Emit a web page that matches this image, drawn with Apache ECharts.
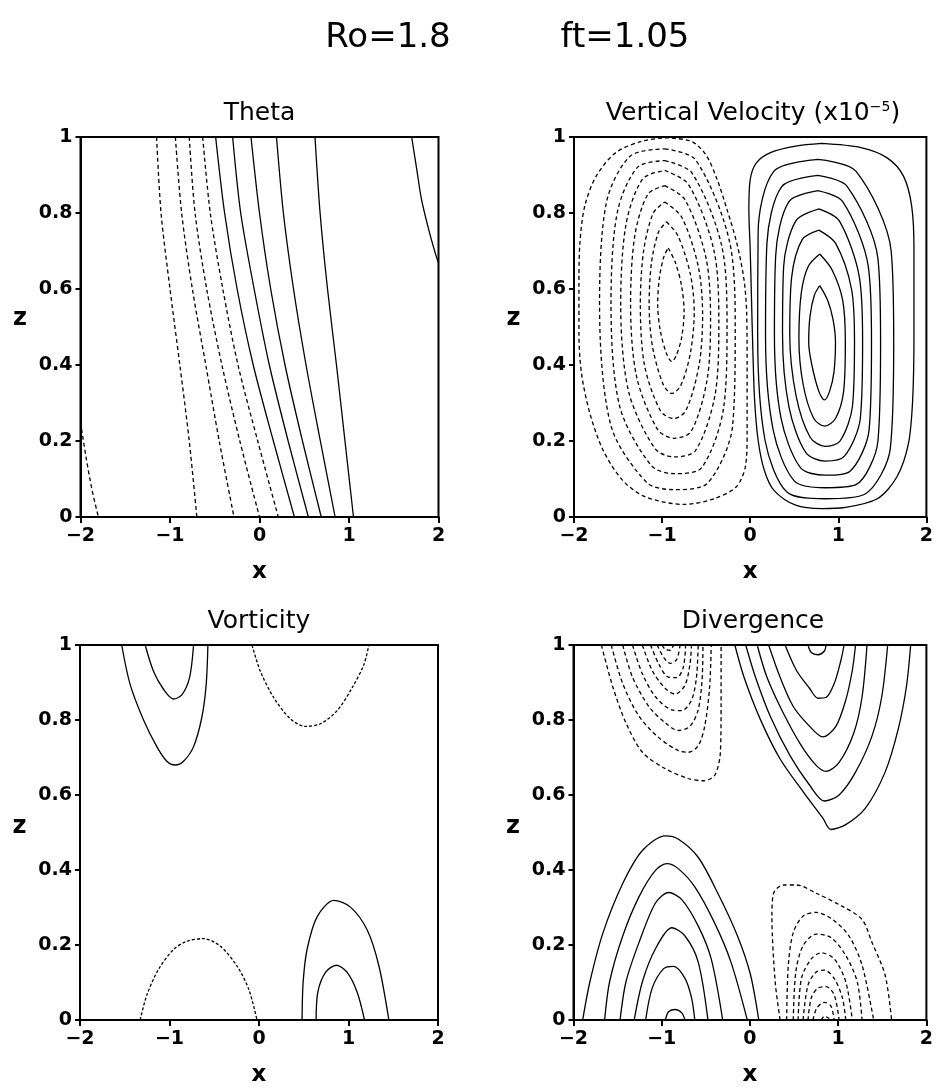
<!DOCTYPE html>
<html><head><meta charset="utf-8">
<script src="https://cdn.jsdelivr.net/npm/echarts@6/dist/echarts.min.js"></script>
<style>html,body{margin:0;padding:0;background:#fff}#c{width:936px;height:1088px}</style>
</head><body><div id="c"></div>
<script>
// ---------- text ----------
const mainTitleLeft = 'Ro=1.8';
const mainTitleRight = 'ft=1.05';
const panelTitles = ['Theta', 'Vertical Velocity (x10{sup|\u22125})', 'Vorticity', 'Divergence'];
const xTicks = [-2, -1, 0, 1, 2];
const zTicks = [0, 0.2, 0.4, 0.6, 0.8, 1];

// ---------- Theta ----------
const thetaDashed = [
  [[-2,0.25],[-1.94,0.16],[-1.87,0.07],[-1.80,0]],
  [[-1.15,1],[-1.10,0.8],[-1.00,0.6],[-0.89,0.4],[-0.785,0.2],[-0.70,0]],
  [[-0.94,1],[-0.87,0.8],[-0.75,0.6],[-0.60,0.4],[-0.45,0.2],[-0.285,0]],
  [[-0.785,1],[-0.72,0.8],[-0.59,0.6],[-0.42,0.4],[-0.22,0.2],[0.0,0]],
  [[-0.635,1],[-0.55,0.8],[-0.41,0.6],[-0.24,0.4],[-0.02,0.2],[0.21,0]]
];
const thetaSolid = [
  [[-0.49,1],[-0.39,0.8],[-0.25,0.6],[-0.07,0.4],[0.155,0.2],[0.39,0]],
  [[-0.30,1],[-0.21,0.8],[-0.06,0.6],[0.11,0.4],[0.32,0.2],[0.546,0]],
  [[-0.095,1],[0.0,0.8],[0.125,0.6],[0.285,0.4],[0.48,0.2],[0.69,0]],
  [[0.19,1],[0.267,0.8],[0.38,0.6],[0.52,0.4],[0.68,0.2],[0.845,0]],
  [[0.62,1],[0.677,0.8],[0.76,0.6],[0.86,0.4],[0.955,0.2],[1.05,0]],
  [[1.70,1],[1.757,0.915],[1.81,0.836],[1.89,0.757],[1.963,0.695],[2.0,0.668]]
];

// ---------- Vertical velocity ----------
const wNegative = [
  [[-0.93,0.708],[-0.85,0.67],[-0.78,0.61],[-0.75,0.54],[-0.78,0.47],[-0.84,0.425],[-0.89,0.409],[-0.95,0.43],[-1.02,0.49],[-1.05,0.56],[-1.03,0.63],[-0.98,0.685],[-0.93,0.708]],
  [[-0.95,0.777],[-0.82,0.74],[-0.68,0.64],[-0.635,0.54],[-0.68,0.43],[-0.79,0.345],[-0.89,0.325],[-0.99,0.35],[-1.11,0.45],[-1.147,0.56],[-1.12,0.67],[-1.04,0.75],[-0.95,0.777]],
  [[-0.97,0.829],[-0.78,0.79],[-0.59,0.66],[-0.54,0.53],[-0.58,0.40],[-0.73,0.28],[-0.87,0.259],[-1.02,0.28],[-1.20,0.40],[-1.247,0.56],[-1.21,0.70],[-1.10,0.80],[-0.97,0.829]],
  [[-0.97,0.872],[-0.74,0.835],[-0.50,0.68],[-0.45,0.52],[-0.49,0.36],[-0.67,0.225],[-0.86,0.207],[-1.05,0.23],[-1.29,0.37],[-1.358,0.56],[-1.31,0.74],[-1.16,0.85],[-0.97,0.872]],
  [[-0.97,0.912],[-0.70,0.875],[-0.41,0.70],[-0.356,0.51],[-0.40,0.32],[-0.62,0.175],[-0.86,0.158],[-1.08,0.18],[-1.38,0.33],[-1.47,0.56],[-1.41,0.77],[-1.22,0.89],[-0.97,0.912]],
  [[-0.97,0.938],[-0.66,0.905],[-0.32,0.71],[-0.263,0.50],[-0.30,0.29],[-0.55,0.13],[-0.86,0.114],[-1.12,0.135],[-1.48,0.29],[-1.58,0.56],[-1.51,0.80],[-1.28,0.92],[-0.97,0.938]],
  [[-0.97,0.969],[-0.62,0.94],[-0.23,0.72],[-0.17,0.49],[-0.20,0.24],[-0.48,0.09],[-0.86,0.072],[-1.17,0.09],[-1.58,0.24],[-1.71,0.56],[-1.63,0.83],[-1.36,0.95],[-0.97,0.969]],
  [[-0.968,0.998],[-0.672,0.989],[-0.505,0.954],[-0.375,0.888],[-0.263,0.809],[-0.152,0.721],[-0.07,0.624],[-0.04,0.536],[-0.035,0.396],[-0.035,0.22],[-0.055,0.132],[-0.16,0.079],[-0.412,0.048],[-0.746,0.033],[-1.19,0.053],[-1.45,0.097],[-1.67,0.176],[-1.82,0.273],[-1.915,0.378],[-1.944,0.484],[-1.944,0.607],[-1.933,0.721],[-1.878,0.818],[-1.748,0.897],[-1.525,0.959],[-1.228,0.989],[-0.968,0.998]]
];
const wPositive = [
  [[0.79,0.609],[0.88,0.57],[0.94,0.52],[0.968,0.46],[0.95,0.38],[0.90,0.33],[0.842,0.308],[0.78,0.33],[0.70,0.40],[0.664,0.46],[0.68,0.53],[0.73,0.585],[0.79,0.609]],
  [[0.79,0.692],[0.93,0.65],[1.05,0.57],[1.08,0.46],[1.06,0.33],[0.97,0.26],[0.845,0.239],[0.72,0.26],[0.60,0.35],[0.553,0.47],[0.58,0.59],[0.66,0.66],[0.79,0.692]],
  [[0.78,0.755],[0.97,0.72],[1.15,0.60],[1.184,0.46],[1.16,0.29],[1.02,0.20],[0.85,0.186],[0.68,0.21],[0.52,0.32],[0.449,0.48],[0.47,0.63],[0.59,0.73],[0.78,0.755]],
  [[0.78,0.811],[1.01,0.78],[1.24,0.63],[1.276,0.46],[1.25,0.26],[1.07,0.16],[0.85,0.147],[0.63,0.17],[0.44,0.29],[0.367,0.48],[0.38,0.66],[0.52,0.78],[0.78,0.811]],
  [[0.77,0.859],[1.05,0.83],[1.34,0.66],[1.377,0.46],[1.35,0.23],[1.13,0.12],[0.85,0.110],[0.57,0.13],[0.35,0.26],[0.275,0.48],[0.29,0.69],[0.44,0.83],[0.77,0.859]],
  [[0.77,0.899],[1.10,0.87],[1.45,0.68],[1.48,0.46],[1.45,0.20],[1.20,0.085],[0.85,0.077],[0.50,0.095],[0.26,0.23],[0.174,0.48],[0.19,0.72],[0.36,0.87],[0.77,0.899]],
  [[0.77,0.941],[1.20,0.91],[1.60,0.70],[1.629,0.46],[1.59,0.18],[1.30,0.06],[0.85,0.048],[0.42,0.065],[0.17,0.20],[0.085,0.48],[0.09,0.75],[0.27,0.91],[0.77,0.941]],
  [[0.813,0.983],[1.258,0.972],[1.555,0.945],[1.74,0.897],[1.833,0.818],[1.859,0.704],[1.859,0.484],[1.844,0.308],[1.796,0.193],[1.666,0.106],[1.443,0.048],[1.072,0.025],[0.813,0.022],[0.516,0.031],[0.27,0.07],[0.16,0.123],[0.09,0.202],[0.05,0.308],[0.03,0.44],[0.015,0.572],[0.0,0.704],[-0.015,0.809],[0.0,0.888],[0.07,0.932],[0.23,0.959],[0.516,0.976],[0.813,0.983]]
];

// ---------- Vorticity ----------
const vortPositive = [
  [[-1.534,1],[-1.44,0.895],[-1.29,0.8],[-1.142,0.729],[-1.03,0.69],[-0.937,0.68],[-0.843,0.69],[-0.731,0.729],[-0.638,0.808],[-0.59,0.895],[-0.571,1]],
  [[-1.272,1],[-1.179,0.93],[-1.067,0.882],[-0.955,0.856],[-0.862,0.867],[-0.776,0.913],[-0.731,1]],
  [[0.481,0],[0.493,0.1],[0.537,0.188],[0.649,0.275],[0.836,0.319],[1.022,0.301],[1.209,0.24],[1.34,0.144],[1.451,0]],
  [[0.638,0],[0.657,0.074],[0.743,0.127],[0.866,0.146],[0.985,0.127],[1.097,0.074],[1.179,0]]
];
const vortNegative = [
  [[-0.078,1],[0.015,0.93],[0.164,0.86],[0.351,0.803],[0.519,0.783],[0.687,0.79],[0.873,0.825],[1.041,0.886],[1.172,0.948],[1.228,1]],
  [[-1.328,0],[-1.254,0.066],[-1.123,0.135],[-0.955,0.188],[-0.806,0.21],[-0.619,0.217],[-0.433,0.197],[-0.246,0.144],[-0.116,0.083],[-0.022,0]]
];

// ---------- Divergence ----------
const divNegative = [
  [[-1.684,1],[-1.554,0.888],[-1.405,0.792],[-1.219,0.714],[-0.959,0.67],[-0.699,0.644],[-0.532,0.638],[-0.401,0.652],[-0.335,0.714],[-0.327,0.845],[-0.327,1]],
  [[-1.572,1],[-1.442,0.897],[-1.257,0.81],[-1.033,0.753],[-0.81,0.718],[-0.699,0.714],[-0.587,0.731],[-0.513,0.783],[-0.457,0.888],[-0.439,1]],
  [[-1.442,1],[-1.331,0.914],[-1.145,0.836],[-0.959,0.792],[-0.81,0.772],[-0.68,0.783],[-0.587,0.827],[-0.543,0.906],[-0.532,1]],
  [[-1.331,1],[-1.219,0.923],[-1.071,0.862],[-0.885,0.827],[-0.773,0.825],[-0.662,0.853],[-0.606,0.914],[-0.587,1]],
  [[-1.219,1],[-1.108,0.932],[-0.959,0.884],[-0.848,0.869],[-0.736,0.893],[-0.68,0.949],[-0.662,1]],
  [[-1.126,1],[-1.033,0.949],[-0.922,0.914],[-0.829,0.913],[-0.755,0.941],[-0.729,1]],
  [[-1.052,1],[-0.978,0.967],[-0.903,0.951],[-0.829,0.962],[-0.792,1]],
  [[-0.996,1],[-0.959,0.988],[-0.903,0.986],[-0.866,1]],
  [[0.342,0],[0.286,0.102],[0.249,0.277],[0.268,0.338],[0.379,0.36],[0.528,0.36],[0.751,0.338],[1.048,0.303],[1.271,0.268],[1.383,0.207],[1.532,0.12],[1.606,0]],
  [[0.416,0],[0.435,0.146],[0.491,0.233],[0.602,0.277],[0.751,0.287],[0.937,0.268],[1.123,0.224],[1.271,0.146],[1.402,0]],
  [[0.491,0],[0.52,0.128],[0.602,0.198],[0.751,0.229],[0.918,0.22],[1.086,0.172],[1.216,0.102],[1.271,0]],
  [[0.546,0],[0.584,0.111],[0.695,0.163],[0.807,0.179],[0.955,0.163],[1.086,0.102],[1.16,0]],
  [[0.602,0],[0.658,0.093],[0.751,0.128],[0.844,0.133],[0.955,0.111],[1.048,0.059],[1.086,0]],
  [[0.658,0],[0.695,0.059],[0.77,0.085],[0.862,0.089],[0.955,0.067],[1.011,0]],
  [[0.714,0],[0.758,0.032],[0.844,0.047],[0.918,0.037],[0.955,0]],
  [[0.807,0],[0.844,0.01],[0.9,0.004]]
];
const divPositive = [
  [[-0.171,1],[-0.067,0.914],[0.119,0.801],[0.342,0.696],[0.602,0.609],[0.825,0.539],[0.918,0.508],[1.086,0.521],[1.309,0.565],[1.532,0.661],[1.68,0.775],[1.773,0.888],[1.822,1]],
  [[-0.048,1],[0.063,0.914],[0.23,0.81],[0.454,0.705],[0.677,0.626],[0.844,0.584],[1.011,0.6],[1.197,0.661],[1.383,0.757],[1.494,0.862],[1.561,1]],
  [[0.082,1],[0.193,0.914],[0.379,0.818],[0.584,0.731],[0.751,0.679],[0.862,0.663],[1.011,0.687],[1.178,0.766],[1.271,0.862],[1.327,1]],
  [[0.212,1],[0.342,0.914],[0.491,0.836],[0.677,0.783],[0.825,0.755],[0.974,0.783],[1.086,0.853],[1.16,0.932],[1.197,1]],
  [[0.398,1],[0.528,0.932],[0.677,0.884],[0.77,0.858],[0.862,0.86],[0.955,0.897],[1.03,0.958],[1.067,1]],
  [[0.658,1],[0.695,0.98],[0.77,0.974],[0.844,0.984],[0.862,1]],
  [[-1.896,0],[-1.814,0.102],[-1.665,0.233],[-1.442,0.364],[-1.219,0.452],[-0.959,0.491],[-0.81,0.482],[-0.587,0.434],[-0.364,0.338],[-0.141,0.224],[0.007,0.12],[0.1,0]],
  [[-1.647,0],[-1.591,0.102],[-1.442,0.224],[-1.257,0.329],[-1.071,0.399],[-0.941,0.417],[-0.81,0.403],[-0.625,0.355],[-0.401,0.259],[-0.216,0.155],[-0.03,0]],
  [[-1.472,0],[-1.405,0.102],[-1.257,0.207],[-1.071,0.312],[-0.922,0.34],[-0.773,0.321],[-0.587,0.251],[-0.439,0.163],[-0.309,0]],
  [[-1.312,0],[-1.219,0.102],[-1.071,0.19],[-0.885,0.246],[-0.736,0.224],[-0.587,0.155],[-0.476,0]],
  [[-1.182,0],[-1.108,0.085],[-0.978,0.137],[-0.866,0.143],[-0.736,0.111],[-0.662,0.059],[-0.625,0]],
  [[-0.959,0],[-0.922,0.022],[-0.848,0.028],[-0.773,0.019],[-0.736,0]]
];

// ---------- layout ----------
const grids = [
  {left: 80.5, top: 137, width: 358, height: 380},
  {left: 574, top: 137, width: 358, height: 380},
  {left: 80, top: 645, width: 358, height: 380},
  {left: 573.5, top: 645, width: 359, height: 380}
];
const panelSeries = [
  {pos: thetaSolid, neg: thetaDashed, dash: [4, 3]},
  {pos: wPositive, neg: wNegative, dash: [4, 3]},
  {pos: vortPositive, neg: vortNegative, dash: [3, 2]},
  {pos: divPositive, neg: divNegative, dash: [4, 3]}
];

const FONT = '"DejaVu Sans", sans-serif';
const minus = v => String(v).replace('-', '\u2212');

const xAxes = [], yAxes = [], series = [], graphics = [];
grids.forEach((g, i) => {
  xAxes.push({
    gridIndex: i, type: 'value', min: xTicks[0], max: xTicks[xTicks.length - 1], interval: xTicks[1] - xTicks[0],
    axisLine: {show: true, onZero: false, lineStyle: {color: '#000', width: 2}},
    axisTick: {show: true, inside: false, length: 6, lineStyle: {color: '#000', width: 2}},
    axisLabel: {show: true, color: '#000', fontFamily: FONT, fontWeight: 'bold', fontSize: 19, margin: 10,
      showMinLabel: true, showMaxLabel: true, formatter: minus},
    splitLine: {show: false},
    name: 'x', nameLocation: 'middle', nameGap: 44,
    nameTextStyle: {fontFamily: FONT, fontWeight: 'bold', fontSize: 23, color: '#000'}
  });
  yAxes.push({
    gridIndex: i, type: 'value', min: zTicks[0], max: zTicks[zTicks.length - 1], interval: zTicks[1] - zTicks[0],
    axisLine: {show: true, onZero: false, lineStyle: {color: '#000', width: 2}},
    axisTick: {show: true, inside: false, length: 5, lineStyle: {color: '#000', width: 2}},
    axisLabel: {show: true, color: '#000', fontFamily: FONT, fontWeight: 'bold', fontSize: 19, margin: 8,
      showMinLabel: true, showMaxLabel: true, formatter: v => String(+v.toFixed(1))},
    splitLine: {show: false}
  });
  const ps = panelSeries[i];
  const add = (list, dashed) => list.forEach(c => series.push({
    type: 'line', xAxisIndex: i, yAxisIndex: i, data: c, showSymbol: false, symbol: 'none',
    smooth: 0.3, clip: true, silent: true, animation: false,
    lineStyle: {color: '#000', width: 1.3, type: dashed ? ps.dash : 'solid'}
  }));
  add(ps.pos, false);
  add(ps.neg, true);
  graphics.push({
    type: 'text', x: g.left + g.width / 2, y: g.top - 24,
    style: {text: panelTitles[i], font: '25px ' + FONT, fontSize: 25, fontFamily: FONT, fill: '#000',
      textAlign: 'center', textVerticalAlign: 'middle', align: 'center', verticalAlign: 'middle',
      rich: {sup: {fontSize: 14, fontFamily: FONT, verticalAlign: 'top', padding: [0, 0, 10, 0]}}}
  });
  graphics.push({
    type: 'text', x: g.left - 60.5, y: g.top + g.height / 2 - 8,
    style: {text: 'z', font: 'bold 24px ' + FONT, fontSize: 24, fontWeight: 'bold', fontFamily: FONT, fill: '#000',
      textAlign: 'center', textVerticalAlign: 'middle', align: 'center', verticalAlign: 'middle'}
  });
});
graphics.push({
  type: 'text', x: 388, y: 38,
  style: {text: mainTitleLeft, font: '34px ' + FONT, fontSize: 34, fontFamily: FONT, fill: '#000',
    textAlign: 'center', textVerticalAlign: 'middle', align: 'center', verticalAlign: 'middle'}
});
graphics.push({
  type: 'text', x: 625, y: 38,
  style: {text: mainTitleRight, font: '34px ' + FONT, fontSize: 34, fontFamily: FONT, fill: '#000',
    textAlign: 'center', textVerticalAlign: 'middle', align: 'center', verticalAlign: 'middle'}
});

const chart = echarts.init(document.getElementById('c'), null, {renderer: 'canvas'});
chart.setOption({
  backgroundColor: '#fff',
  animation: false,
  grid: grids.map(g => Object.assign({show: true, borderColor: '#000', borderWidth: 2, backgroundColor: 'transparent', containLabel: false}, g)),
  xAxis: xAxes,
  yAxis: yAxes,
  series: series,
  graphic: graphics
});
</script>
</body></html>
